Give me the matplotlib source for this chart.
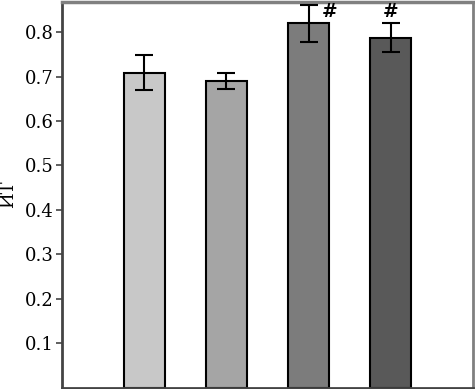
import matplotlib
matplotlib.use("Agg")
import matplotlib.pyplot as plt

groups = ["1", "2", "3", "4"]
values = [0.709, 0.691, 0.820, 0.788]
errors = [0.040, 0.018, 0.041, 0.032]
colors = ["#c8c8c8", "#a5a5a5", "#7c7c7c", "#595959"]
marks = ["", "", "#", "#"]
yticks = [0.1, 0.2, 0.3, 0.4, 0.5, 0.6, 0.7, 0.8]

plt.rcParams['font.family'] = ['DejaVu Serif']

fig = plt.figure(figsize=(4.75, 3.89), dpi=100)
ax = fig.add_axes([62/475, 1 - 387.5/389, (473-62)/475, (387.5-2)/389])

x = list(range(len(groups)))
ax.bar(x, values, width=0.5, color=colors, edgecolor="black", linewidth=1.5, zorder=2)
ax.errorbar(x, values, yerr=errors, fmt="none", ecolor="black", elinewidth=1.5,
            capsize=6.5, capthick=1.5, zorder=3)
# significance marks: beside the error bar if no room above, else above it
for xi, v, e, m in zip(x, values, errors, marks):
    if not m:
        continue
    top = v + e
    if top > 0.84:
        ax.text(xi + 0.25, 0.845, m, ha="center", va="center",
                fontsize=13.5, fontweight="bold")
    else:
        ax.text(xi, 0.845, m, ha="center", va="center",
                fontsize=13.5, fontweight="bold")

ax.set_xlim(-1, 4)
ax.set_ylim(0, 0.868)
ax.set_xticks([])
ax.set_yticks(yticks)
ax.set_yticklabels([f"{t:.1f}" for t in yticks], fontsize=13)
ax.tick_params(axis="y", direction="out", length=4, width=1.2, color="#444444", pad=2)
ax.set_ylabel("ИТ", fontsize=13)
ax.yaxis.set_label_coords(-0.110, 0.5)
for s in ax.spines.values():
    s.set_linewidth(2)
    s.set_color("#444444")
ax.spines["top"].set_color("#808080")
ax.spines["top"].set_linewidth(2.5)
ax.spines["right"].set_color("#808080")

fig.savefig("out.png", dpi=100)
